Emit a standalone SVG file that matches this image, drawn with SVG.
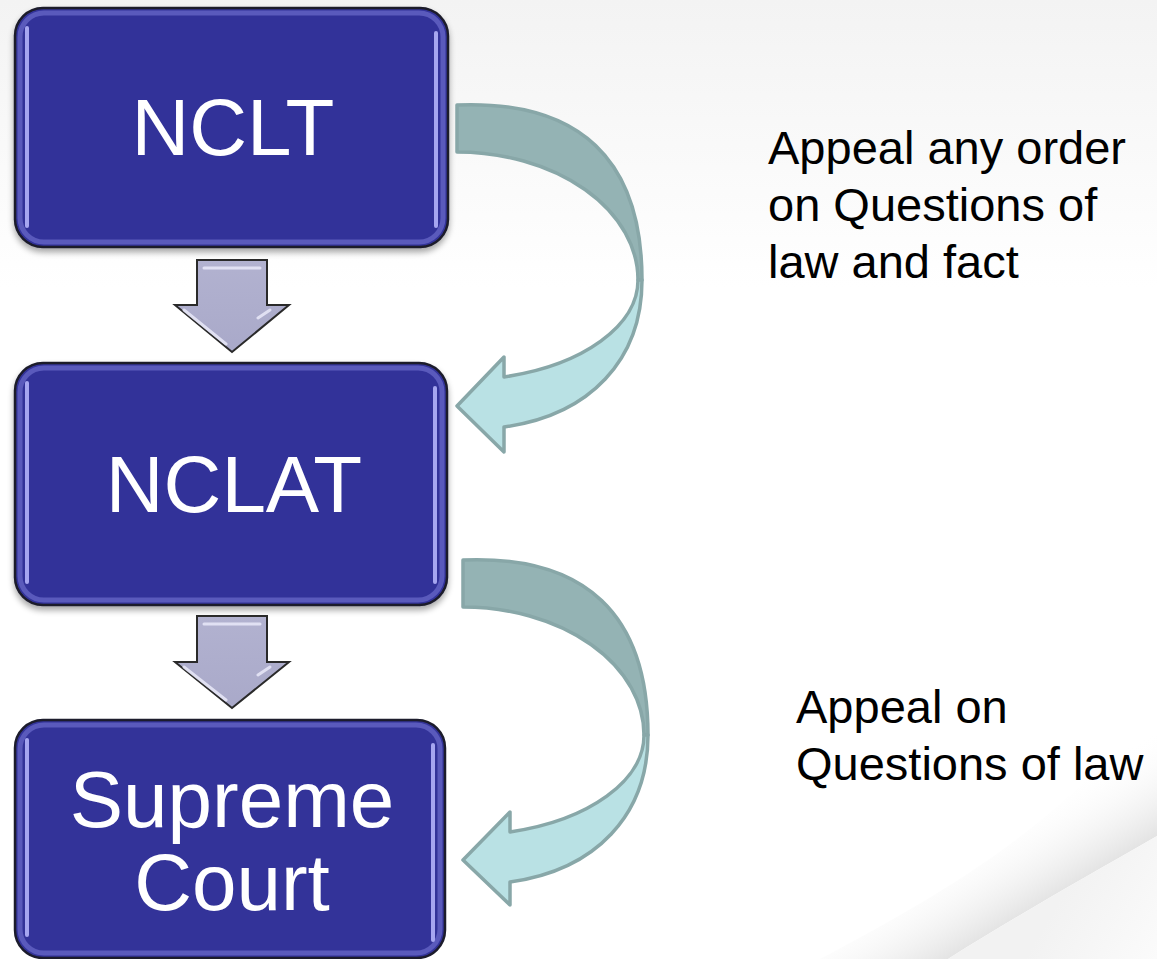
<svg xmlns="http://www.w3.org/2000/svg" width="1157" height="959" viewBox="0 0 1157 959">
<defs>
<linearGradient id="bg" x1="0" y1="0" x2="0" y2="1">
<stop offset="0" stop-color="#f3f3f3"/>
<stop offset="0.3" stop-color="#ffffff"/>
<stop offset="1" stop-color="#ffffff"/>
</linearGradient>
<linearGradient id="curl" gradientUnits="userSpaceOnUse" x1="1060" y1="900" x2="1010" y2="815">
<stop offset="0" stop-color="#dedede" stop-opacity="0.95"/>
<stop offset="1" stop-color="#ffffff" stop-opacity="0"/>
</linearGradient>
<linearGradient id="under" gradientUnits="userSpaceOnUse" x1="1060" y1="900" x2="1157" y2="959">
<stop offset="0" stop-color="#f2f2f2"/>
<stop offset="1" stop-color="#fbfbfb"/>
</linearGradient>
<filter id="shadow" x="-10%" y="-10%" width="120%" height="125%">
<feGaussianBlur in="SourceAlpha" stdDeviation="3"/>
<feOffset dx="0" dy="4" result="b"/>
<feComponentTransfer><feFuncA type="linear" slope="0.35"/></feComponentTransfer>
<feMerge><feMergeNode/><feMergeNode in="SourceGraphic"/></feMerge>
</filter>
<linearGradient id="arrowFill" x1="0" y1="0" x2="0" y2="1">
<stop offset="0" stop-color="#b2b2d0"/>
<stop offset="1" stop-color="#a9a9c9"/>
</linearGradient>
</defs>
<style>
.box{fill:#333399;stroke:#1c1c2c;stroke-width:2.5}
.bevel{fill:none;stroke:#5a5abc;stroke-width:5}
.hl{stroke:#a6a6f0;stroke-width:4;stroke-linecap:round}
.lbl{font-family:"Liberation Sans",Arial,sans-serif;font-size:80px;fill:#ffffff;text-anchor:middle}
.note{font-family:"Liberation Sans",Arial,sans-serif;font-size:47px;fill:#000000}
.down{fill:url(#arrowFill);stroke:#2a2a2a;stroke-width:2;stroke-linejoin:miter}
.downhl{fill:none;stroke:#e6e6f6;stroke-width:3;stroke-linecap:round;opacity:0.9}
.back{fill:#94b3b4;stroke:#88a7a8;stroke-width:3.5;stroke-linejoin:round}
.front{fill:#b9e1e4;stroke:#88a7a8;stroke-width:3.5;stroke-linejoin:round}
</style>
<rect x="0" y="0" width="1157" height="959" fill="url(#bg)"/>
<path d="M 820,959 C 930,900 1060,830 1157,700 L 1157,836 C 1080,880 1010,920 948,959 Z" fill="url(#curl)"/>
<path d="M 948,959 C 1010,920 1080,880 1157,836 L 1157,959 Z" fill="url(#under)"/>

<g id="connectors">
<g id="down-arrow-1">
<polygon class="down" points="197,260 267,260 267,305 289,305 232,352 175,305 197,305"/>
<path class="downhl" d="M 204,268 L 260,268 M 184,310 L 226,344 M 258,318 L 270,310"/>
</g>
<g id="down-arrow-2">
<polygon class="down" points="197,616 267,616 267,662 289,662 232,708 175,662 197,662"/>
<path class="downhl" d="M 204,624 L 260,624 M 184,667 L 226,700 M 258,675 L 270,667"/>
</g>
<g id="curved-arrow-1">
<path class="back" d="M 457,105 C 580,100 642,160 642,280 L 638,280 A 181 128 0 0 0 457,152 Z"/>
<path class="front" d="M 642,280 C 642,360 590,415 504,427 L 504,452 L 457,406 L 504,357 L 504,377 A 180 100 0 0 0 638,280 Z"/>
</g>
<g id="curved-arrow-2">
<path class="back" d="M 463,560 C 586,555 648,615 648,735 L 644,735 A 181 128 0 0 0 463,607 Z"/>
<path class="front" d="M 648,735 C 648,815 596,870 510,882 L 510,905 L 463,860 L 510,812 L 510,832 A 180 100 0 0 0 644,735 Z"/>
</g>
</g>

<g id="node-nclt">
<rect class="box" x="15" y="8" width="433" height="239" rx="28" filter="url(#shadow)"/>
<rect class="bevel" x="20" y="13" width="423" height="229" rx="24"/>
<line class="hl" x1="27" y1="28" x2="27" y2="226"/>
<line class="hl" x1="436" y1="33" x2="436" y2="226"/>
<text class="lbl" x="233" y="155">NCLT</text>
</g>

<g id="node-nclat">
<rect class="box" x="15" y="363" width="432" height="242" rx="28" filter="url(#shadow)"/>
<rect class="bevel" x="20" y="368" width="422" height="232" rx="24"/>
<line class="hl" x1="27" y1="383" x2="27" y2="582"/>
<line class="hl" x1="435" y1="388" x2="435" y2="582"/>
<text class="lbl" x="234" y="512">NCLAT</text>
</g>

<g id="node-supreme-court">
<rect class="box" x="15" y="720" width="430" height="238" rx="28"/>
<rect class="bevel" x="20" y="725" width="420" height="228" rx="24"/>
<line class="hl" x1="27" y1="740" x2="27" y2="935"/>
<line class="hl" x1="433" y1="745" x2="433" y2="940"/>
<text class="lbl" x="232" y="827">Supreme</text>
<text class="lbl" x="232" y="910">Court</text>
</g>

<g id="note-1">
<text class="note" x="768" y="164">Appeal any order</text>
<text class="note" x="768" y="221">on Questions of</text>
<text class="note" x="768" y="278">law and fact</text>
</g>
<g id="note-2">
<text class="note" x="796" y="723">Appeal on</text>
<text class="note" x="796" y="780">Questions of law</text>
</g>
</svg>
